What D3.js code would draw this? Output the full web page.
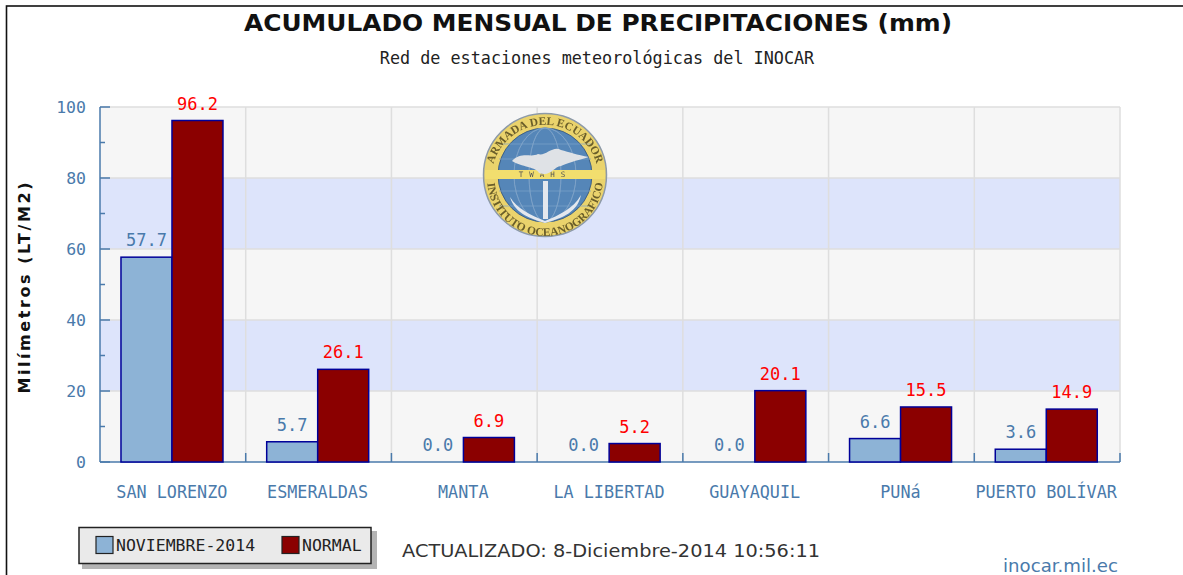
<!DOCTYPE html>
<html>
<head>
<meta charset="utf-8">
<script src="https://cdn.jsdelivr.net/npm/d3@7"></script>
<style>
html, body { margin: 0; padding: 0; background: #fff; overflow: hidden; }
text { font-family: "DejaVu Sans Mono", monospace; }
</style>
</head>
<body>
<div id="chart"></div>
<script>
var estaciones = ["SAN LORENZO", "ESMERALDAS", "MANTA", "LA LIBERTAD", "GUAYAQUIL", "PUNá", "PUERTO BOLÍVAR"];
var noviembre = [57.7, 5.7, 0.0, 0.0, 0.0, 6.6, 3.6];
var normal = [96.2, 26.1, 6.9, 5.2, 20.1, 15.5, 14.9];
var series = ["NOVIEMBRE-2014", "NORMAL"];
var yTicks = [0, 20, 40, 60, 80, 100];
var yMinor = [10, 30, 50, 70, 90];

var width = 1183, height = 575;
var margin = {left: 100, top: 107, right: 63, bottom: 113};
var w = width - margin.left - margin.right,
	h = height - margin.top - margin.bottom;

var azul = "#4a7aab", rojo = "#ff0000", oscuro = "#000099";

var svg = d3.select("#chart").append("svg")
	.attr("width", width)
	.attr("height", height);

// marco exterior, el lado derecho queda fuera de la foto
svg.append("rect")
	.attr("x", 6.5).attr("y", 6)
	.attr("width", 1200).attr("height", 600)
	.attr("fill", "#fff").attr("stroke", "#111").attr("stroke-width", 1.6);

var x = d3.scaleBand().domain(estaciones).range([0, w]);
var x1 = d3.scaleBand().domain(series).range([x.bandwidth() * 0.144, x.bandwidth() * 0.844]);
var y = d3.scaleLinear().domain([0, 100]).range([h, 0]);

var g = svg.append("g")
	.attr("transform", "translate(" + margin.left + "," + margin.top + ")");

// bandas de fondo
g.selectAll(".banda")
	.data(d3.pairs(yTicks))
	.enter().append("rect")
	.attr("x", 0)
	.attr("width", w)
	.attr("y", function(d) { return y(d[1]); })
	.attr("height", function(d) { return y(d[0]) - y(d[1]); })
	.attr("fill", function(d, i) { return i % 2 ? "#dde4fb" : "#f6f6f6"; });

// logo, va debajo de la rejilla
var defs = svg.append("defs");
defs.append("filter").attr("id", "suave").append("feGaussianBlur").attr("stdDeviation", 0.7);
defs.append("path").attr("id", "arcoSup").attr("d", "M-53,-4 A53.5,53.5 0 0 1 53,-4");
defs.append("path").attr("id", "arcoInf").attr("d", "M-58,3 A58,58 0 0 0 58,3");

var logo = svg.append("g").attr("transform", "translate(545,175)").attr("filter", "url(#suave)");
logo.append("circle").attr("r", 61.5).attr("fill", "#ead36c").attr("stroke", "#8d9aa8").attr("stroke-width", 1.5);
logo.append("circle").attr("r", 47).attr("fill", "#5486b8").attr("stroke", "#33537a").attr("stroke-width", 0.8);
[-31, -16, 16, 31].forEach(function(d) {
	logo.append("ellipse").attr("rx", Math.abs(d)).attr("ry", 47).attr("fill", "none").attr("stroke", "#7fa3c8").attr("stroke-width", 0.7);
	logo.append("line").attr("x1", -46).attr("x2", 46).attr("y1", d).attr("y2", d).attr("stroke", "#7fa3c8").attr("stroke-width", 0.7);
});
logo.append("rect").attr("x", -60).attr("y", -5).attr("width", 120).attr("height", 9).attr("fill", "#f2de6e");
logo.append("text").attr("y", 2).attr("text-anchor", "middle").attr("fill", "#555").attr("font-size", 7.5).attr("letter-spacing", 6).text("TWAHS");
logo.append("path").attr("d", "M-33,-14 C-24,-24 -14,-17 -7,-21 C0,-18 8,-30 16,-25 C24,-23 32,-20 44,-18 C30,-14 22,-12 16,-9 C8,-8 6,2 -6,-2 C-8,-8 -24,-8 -33,-14 Z").attr("fill", "#dfe2e6");
logo.append("path").attr("d", "M-2,6 L3,6 L3,44 L-2,44 Z M-35,22 C-28,34 -14,40 0,46 C14,40 28,34 36,20 C32,40 12,44 0,48 C-12,44 -30,40 -35,22 Z").attr("fill", "#e4e8ee");
logo.append("text").attr("font-size", 11.5).attr("font-weight", "bold").attr("fill", "#6b5e2a")
	.append("textPath").attr("href", "#arcoSup").attr("startOffset", "50%").attr("text-anchor", "middle").style("font-family", "Liberation Serif").text("ARMADA DEL ECUADOR");
logo.append("text").attr("font-size", 11.5).attr("font-weight", "bold").attr("fill", "#6b5e2a")
	.append("textPath").attr("href", "#arcoInf").attr("startOffset", "50%").attr("text-anchor", "middle").style("font-family", "Liberation Serif").text("INSTITUTO OCEANOGRAFICO");

// rejilla
g.selectAll(".gy")
	.data(yTicks.slice(1))
	.enter().append("line")
	.attr("x1", 0).attr("x2", w)
	.attr("y1", function(d) { return y(d); })
	.attr("y2", function(d) { return y(d); })
	.attr("stroke", "#dedede").attr("stroke-width", 1.5);

var bordes = estaciones.map(function(d) { return x(d); }).concat([w]);
g.selectAll(".gx")
	.data(bordes.slice(1))
	.enter().append("line")
	.attr("x1", function(d) { return d; })
	.attr("x2", function(d) { return d; })
	.attr("y1", 0).attr("y2", h)
	.attr("stroke", "#dedede").attr("stroke-width", 1.5);

// ejes
var ejeY = g.append("g")
	.call(d3.axisLeft(y).tickValues(yTicks).tickSize(0).tickPadding(14).tickFormat(d3.format("d")));
ejeY.select(".domain").remove();
ejeY.selectAll("text").attr("fill", azul).attr("font-size", 16.5).style("font-family", "DejaVu Sans Mono");

g.selectAll(".ty")
	.data(yTicks.concat(yMinor))
	.enter().append("line")
	.attr("x1", 0)
	.attr("x2", function(d) { return d % 20 === 0 ? 10 : 5; })
	.attr("y1", function(d) { return y(d); })
	.attr("y2", function(d) { return y(d); })
	.attr("stroke", azul).attr("stroke-width", 1.5);

g.append("line").attr("x1", 0).attr("x2", 0).attr("y1", 0).attr("y2", h).attr("stroke", azul).attr("stroke-width", 1.5);
g.append("line").attr("x1", 0).attr("x2", w).attr("y1", h).attr("y2", h).attr("stroke", azul).attr("stroke-width", 1.5);

g.selectAll(".tx")
	.data(bordes.slice(1))
	.enter().append("line")
	.attr("x1", function(d) { return d; })
	.attr("x2", function(d) { return d; })
	.attr("y1", h - 9).attr("y2", h)
	.attr("stroke", azul).attr("stroke-width", 1.5);

g.selectAll(".lx")
	.data(estaciones)
	.enter().append("text")
	.attr("x", function(d) { return x(d) + x.bandwidth() / 2 - 1; })
	.attr("y", h + 36)
	.attr("text-anchor", "middle")
	.attr("fill", azul)
	.attr("font-size", 16.8)
	.text(function(d) { return d; });

// barras
var grupos = [
	{nombre: series[0], valores: noviembre, color: "#8db3d6", texto: azul},
	{nombre: series[1], valores: normal, color: "#8b0000", texto: rojo}
];

grupos.forEach(function(s) {
	var sg = g.append("g");
	sg.selectAll("rect")
		.data(s.valores)
		.enter().append("rect")
		.attr("x", function(d, i) { return x(estaciones[i]) + x1(s.nombre); })
		.attr("y", function(d) { return y(d); })
		.attr("width", x1.bandwidth())
		.attr("height", function(d) { return h - y(d); })
		.attr("fill", s.color)
		.attr("stroke", oscuro)
		.attr("stroke-width", function(d) { return d > 0 ? 1.5 : 0; });
	sg.selectAll("text")
		.data(s.valores)
		.enter().append("text")
		.attr("x", function(d, i) { return x(estaciones[i]) + x1(s.nombre) + x1.bandwidth() / 2; })
		.attr("y", function(d) { return y(d) - 11; })
		.attr("text-anchor", "middle")
		.attr("fill", s.texto)
		.attr("font-size", 17)
		.text(function(d) { return d.toFixed(1); });
});

// titulos
svg.append("text")
	.attr("x", 598).attr("y", 31)
	.attr("text-anchor", "middle")
	.attr("font-size", 22.5)
	.attr("font-weight", "bold")
	.attr("fill", "#111")
	.attr("textLength", 708)
	.attr("lengthAdjust", "spacingAndGlyphs")
	.style("font-family", "DejaVu Sans")
	.text("ACUMULADO MENSUAL DE PRECIPITACIONES (mm)");

svg.append("text")
	.attr("x", 597).attr("y", 64)
	.attr("text-anchor", "middle")
	.attr("font-size", 16.8)
	.attr("fill", "#222")
	.text("Red de estaciones meteorológicas del INOCAR");

svg.append("text")
	.attr("transform", "translate(30,288) rotate(-90)")
	.attr("text-anchor", "middle")
	.attr("font-size", 16)
	.attr("font-weight", "bold")
	.attr("fill", "#111")
	.attr("textLength", 211)
	.attr("lengthAdjust", "spacing")
	.style("font-family", "DejaVu Sans")
	.text("Milímetros (LT/M2)");

// leyenda
svg.append("rect").attr("x", 82).attr("y", 531).attr("width", 295).attr("height", 38).attr("fill", "#b4b4b4");
svg.append("rect").attr("x", 79).attr("y", 527.5).attr("width", 292).attr("height", 36)
	.attr("fill", "#eaeaea").attr("stroke", "#222").attr("stroke-width", 1.5);

var leyenda = [
	{t: series[0], c: "#8db3d6", x: 96},
	{t: series[1], c: "#8b0000", x: 282}
];
leyenda.forEach(function(d) {
	svg.append("rect").attr("x", d.x).attr("y", 536.5).attr("width", 17).attr("height", 17)
		.attr("fill", d.c).attr("stroke", "#222").attr("stroke-width", 1.2);
	svg.append("text").attr("x", d.x + 20).attr("y", 551)
		.attr("font-size", 16.5).attr("fill", "#222").text(d.t);
});

svg.append("text")
	.attr("x", 402).attr("y", 557)
	.attr("font-size", 17)
	.attr("fill", "#333")
	.attr("textLength", 418)
	.attr("lengthAdjust", "spacingAndGlyphs")
	.style("font-family", "DejaVu Sans")
	.text("ACTUALIZADO: 8-Diciembre-2014 10:56:11");

svg.append("text")
	.attr("x", 1003).attr("y", 572)
	.attr("font-size", 17)
	.attr("fill", azul)
	.attr("textLength", 115)
	.attr("lengthAdjust", "spacingAndGlyphs")
	.style("font-family", "DejaVu Sans")
	.text("inocar.mil.ec");
</script>
</body>
</html>
